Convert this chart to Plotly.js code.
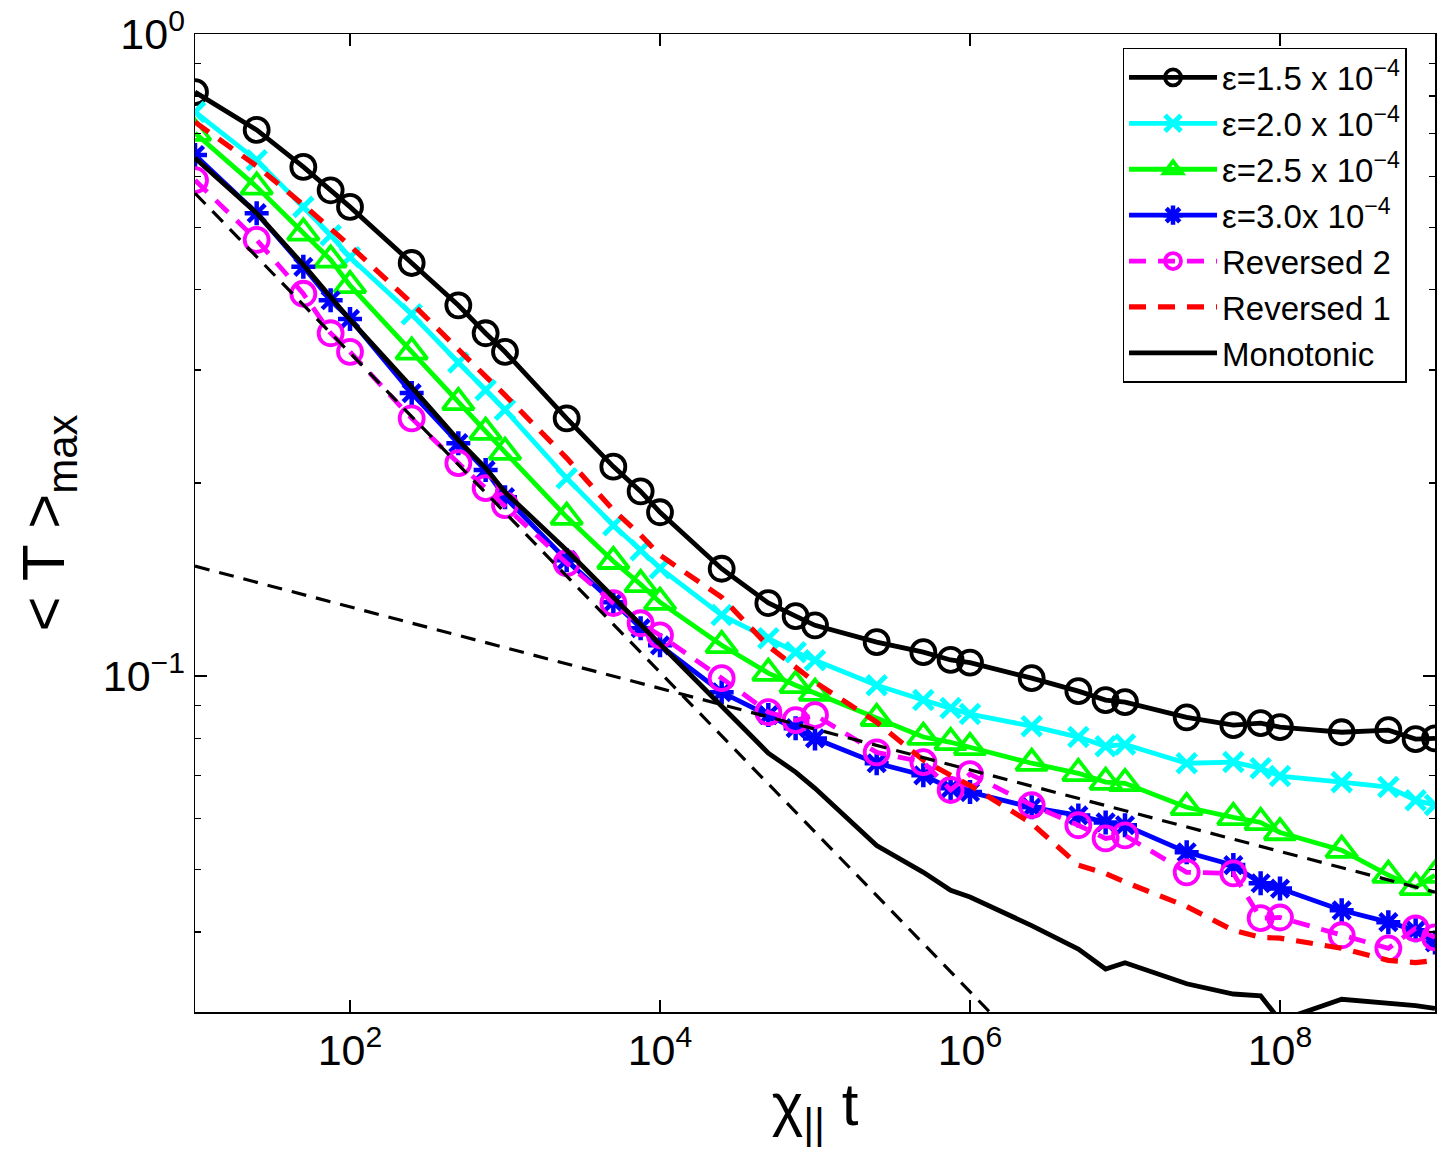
<!DOCTYPE html>
<html>
<head>
<meta charset="utf-8">
<script src="https://cdn.plot.ly/plotly-3.0.1.min.js"></script>
<style>
  body { margin: 0; background: #fff; }
  #chart { width: 1453px; height: 1159px; }
</style>
</head>
<body>
<div id="chart"></div>
<script>
// chi_par * t sample points (same for every run)
var chiT = [10,
  25, 50, 75, 100,
  250, 500, 750, 1e3,
  2.5e3, 5e3, 7.5e3, 1e4,
  2.5e4, 5e4, 7.5e4, 1e5,
  2.5e5, 5e5, 7.5e5, 1e6,
  2.5e6, 5e6, 7.5e6, 1e7,
  2.5e7, 5e7, 7.5e7, 1e8,
  2.5e8, 5e8, 7.5e8, 1e9];

// <T>_max
var tEps15 = [0.812, 0.709, 0.621, 0.571, 0.538, 0.440, 0.378, 0.342, 0.320, 0.252, 0.212, 0.194, 0.180,
  0.147, 0.130, 0.124, 0.120, 0.113, 0.109, 0.106, 0.105, 0.0993, 0.0948, 0.0918, 0.0911,
  0.0863, 0.0839, 0.0845, 0.0833, 0.0818, 0.0824, 0.0798, 0.0800];
var tEps20 = [0.756, 0.636, 0.538, 0.486, 0.449, 0.366, 0.308, 0.279, 0.260, 0.2034, 0.1718, 0.1571, 0.1473,
  0.1245, 0.1146, 0.1090, 0.1059, 0.0968, 0.0918, 0.0892, 0.0873, 0.0836, 0.0804, 0.0778, 0.0783,
  0.0732, 0.0735, 0.0719, 0.0699, 0.0684, 0.0672, 0.0641, 0.0630];
var tEps25 = [0.701, 0.578, 0.490, 0.445, 0.406, 0.320, 0.267, 0.240, 0.2233, 0.1769, 0.1510, 0.1390, 0.1304,
  0.1117, 0.1011, 0.0968, 0.0941, 0.0860, 0.0804, 0.0789, 0.0775, 0.0732, 0.0706, 0.0684, 0.0681,
  0.0625, 0.0603, 0.0592, 0.0571, 0.0536, 0.0490, 0.0469, 0.0490];
var tEps30 = [0.648, 0.526, 0.434, 0.385, 0.360, 0.276, 0.2306, 0.2094, 0.1900, 0.1516, 0.1304, 0.1188, 0.1117,
  0.0944, 0.0870, 0.0830, 0.0800, 0.0732, 0.0701, 0.0669, 0.0660, 0.0625, 0.0607, 0.0592, 0.0586,
  0.0532, 0.0508, 0.0476, 0.0467, 0.0432, 0.0414, 0.0402, 0.0385];
var tRev2 = [0.592, 0.478, 0.394, 0.342, 0.320, 0.252, 0.2147, 0.1963, 0.1847, 0.1500, 0.1300, 0.1209, 0.1158,
  0.0993, 0.0879, 0.0854, 0.0870, 0.0761, 0.0735, 0.0665, 0.0704, 0.0630, 0.0586, 0.0559, 0.0565,
  0.0495, 0.0493, 0.0420, 0.0421, 0.0395, 0.0377, 0.0405, 0.0392];
var tRev1 = [0.729, 0.623, 0.542, 0.499, 0.468, 0.381, 0.322, 0.293, 0.274, 0.2186, 0.1814, 0.1659, 0.1543,
  0.1327, 0.1114, 0.1033, 0.0979, 0.0848, 0.0740, 0.0701, 0.0676, 0.0590, 0.0508, 0.0493, 0.0478,
  0.0438, 0.0402, 0.0392, 0.0391, 0.0377, 0.0361, 0.0358, 0.0361];
var tMono = [0.641, 0.526, 0.437, 0.389, 0.359, 0.282, 0.2331, 0.2109, 0.1935, 0.1571, 0.1327, 0.1201, 0.1125,
  0.0901, 0.0759, 0.0709, 0.0669, 0.0545, 0.0495, 0.0464, 0.0453, 0.0409, 0.0376, 0.0350, 0.0358,
  0.0332, 0.0320, 0.0318, 0.0291, 0.0314, 0.0310, 0.0307, 0.0304];

// dashed guide lines (end points only)
var fitSteepX = [10, 1e7];
var fitSteepY = [0.565, 0.0182];
var fitFlatX = [10, 1e9];
var fitFlatY = [0.1484, 0.0461];

var legendNames = ['ε=1.5 x 10<sup>−4</sup>', 'ε=2.0 x 10<sup>−4</sup>', 'ε=2.5 x 10<sup>−4</sup>',
  'ε=3.0x 10<sup>−4</sup>', 'Reversed 2', 'Reversed 1', 'Monotonic'];

var lw = 4.8;

var traceEps15 = {
  x: chiT, y: tEps15, name: legendNames[0], type: 'scatter', mode: 'lines+markers',
  line: {color: '#000000', width: lw},
  marker: {symbol: 'circle-open', size: 24, color: '#000000', line: {width: 3.8}}
};
var traceEps20 = {
  x: chiT, y: tEps20, name: legendNames[1], type: 'scatter', mode: 'lines+markers',
  line: {color: '#00ffff', width: lw},
  marker: {symbol: 'x-thin-open', size: 19, color: '#00ffff', line: {width: 5}}
};
var traceEps25 = {
  x: chiT, y: tEps25, name: legendNames[2], type: 'scatter', mode: 'lines+markers',
  line: {color: '#00ff00', width: lw},
  marker: {symbol: 'triangle-up-open', size: 27, color: '#00ff00', line: {width: 3.8}}
};
var traceEps30 = {
  x: chiT, y: tEps30, name: legendNames[3], type: 'scatter', mode: 'lines+markers',
  line: {color: '#0000ff', width: lw},
  marker: {symbol: 'asterisk-open', size: 20, color: '#0000ff', line: {width: 4.5}}
};
var traceRev2 = {
  x: chiT, y: tRev2, name: legendNames[4], type: 'scatter', mode: 'lines+markers',
  line: {color: '#ff00ff', width: lw, dash: '17px,12px'},
  marker: {symbol: 'circle-open', size: 24, color: '#ff00ff', line: {width: 3.8}}
};
var traceRev1 = {
  x: chiT, y: tRev1, name: legendNames[5], type: 'scatter', mode: 'lines',
  line: {color: '#ff0000', width: 5.2, dash: '17px,12px'}
};
var traceMono = {
  x: chiT, y: tMono, name: legendNames[6], type: 'scatter', mode: 'lines',
  line: {color: '#000000', width: lw}
};
var traceFitSteep = {
  x: fitSteepX, y: fitSteepY, type: 'scatter', mode: 'lines', showlegend: false,
  line: {color: '#000000', width: 3.2, dash: '15px,10px'}
};
var traceFitFlat = {
  x: fitFlatX, y: fitFlatY, type: 'scatter', mode: 'lines', showlegend: false,
  line: {color: '#000000', width: 3.2, dash: '15px,10px'}
};

var data = [traceEps15, traceEps20, traceEps25, traceEps30, traceRev2, traceRev1, traceMono,
  traceFitSteep, traceFitFlat];

var fontFam = 'Liberation Sans, Arial, Helvetica, sans-serif';

var layout = {
  width: 1453,
  height: 1159,
  margin: {l: 195, r: 18, t: 34, b: 147},
  paper_bgcolor: '#ffffff',
  plot_bgcolor: '#ffffff',
  font: {family: fontFam, color: '#000000', size: 42},
  showlegend: true,
  legend: {
    x: 0.748, y: 0.9857, xanchor: 'left', yanchor: 'top',
    bgcolor: '#ffffff', bordercolor: '#000000', borderwidth: 1.5,
    font: {family: fontFam, size: 33, color: '#000000'},
    itemwidth: 88
  },
  xaxis: {
    type: 'log',
    range: [1, 9],
    showgrid: false, zeroline: false,
    showline: true, linecolor: '#000000', linewidth: 1.5, mirror: 'ticks',
    ticks: 'inside', ticklen: 12, tickwidth: 1.5, tickcolor: '#000000',
    tickmode: 'array',
    tickvals: [1e2, 1e4, 1e6, 1e8],
    ticktext: ['10<sup>2</sup>', '10<sup>4</sup>', '10<sup>6</sup>', '10<sup>8</sup>'],
    tickfont: {size: 43},
    title: {text: 'χ<sub>||</sub> t', font: {size: 60}, standoff: 10}
  },
  yaxis: {
    type: 'log',
    range: [Math.log10(0.03), 0],
    showgrid: false, zeroline: false,
    showline: true, linecolor: '#000000', linewidth: 1.5, mirror: 'ticks',
    ticks: 'inside', ticklen: 12, tickwidth: 1.5, tickcolor: '#000000',
    tickmode: 'array',
    tickvals: [0.1, 1],
    ticktext: ['10<sup>−1</sup>', '10<sup>0</sup>'],
    tickfont: {size: 43},
    minor: {
      tickmode: 'array',
      tickvals: [0.03, 0.04, 0.05, 0.06, 0.07, 0.08, 0.09, 0.2, 0.3, 0.4, 0.5, 0.6, 0.7, 0.8, 0.9],
      ticks: 'inside', ticklen: 6, tickwidth: 1.5, tickcolor: '#000000', showgrid: false
    },
    title: {text: '< T ><sub>max</sub>', font: {size: 60}, standoff: 18}
  }
};

Plotly.newPlot('chart', data, layout, {staticPlot: true});
</script>
</body>
</html>
